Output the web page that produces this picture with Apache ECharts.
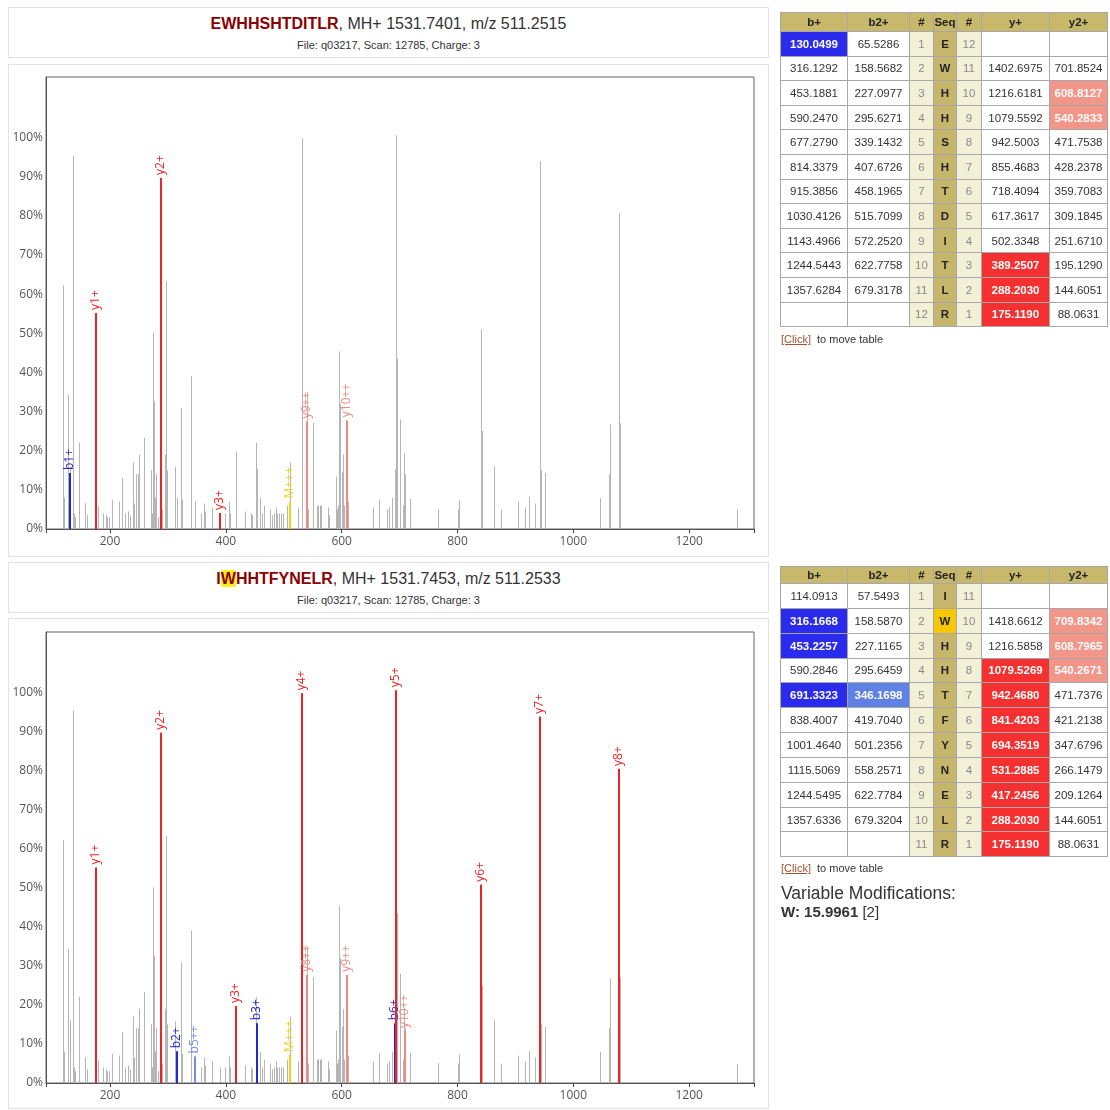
<!DOCTYPE html>
<html><head><meta charset="utf-8">
<script src="https://cdn.jsdelivr.net/npm/echarts@6/dist/echarts.min.js"></script>
<style>
body{margin:0;background:#fff;width:1110px;height:1110px;position:relative;overflow:hidden;font-family:"Liberation Sans",Arial,sans-serif;}
.box{position:absolute;border:1px solid #e2e2e2;box-sizing:border-box;background:#fff;}
.ttl{position:absolute;left:0;right:0;text-align:center;color:#333;white-space:nowrap;}
.t1{font-size:16px;top:7px;}
.t2{font-size:11px;top:31px;}
.pep{color:#8b0000;font-weight:bold;}
.mod{background:#ffee22;}
#chart{position:absolute;left:0;top:0;width:1110px;height:1110px;}
table.frag{position:absolute;border-collapse:collapse;font-size:11.5px;color:#333;table-layout:fixed;}
table.frag td{border:1px solid #a8a8a8;text-align:center;padding:0;white-space:nowrap;overflow:hidden;}
table.frag tr.h td{background:#c8b86c;font-weight:bold;color:#222;}
table.frag td.num{background:#f3f0d8;color:#888;}
table.frag td.seq{background:#c6b66c;font-weight:bold;color:#222;}
table.frag td.hb{background:#2b2bee;color:#fff;font-weight:bold;}
table.frag td.hbb{background:#5f80e4;color:#fff;font-weight:bold;}
table.frag td.hy{background:#f53030;color:#fff;font-weight:bold;}
table.frag td.hyy{background:#f3968a;color:#fff;font-weight:bold;}
table.frag td.hm{background:#f7c800;}
.click{position:absolute;left:781px;font-size:11px;color:#333;}
.click span{color:#a0522d;text-decoration:underline;}
</style></head><body>
<div class="box" style="left:8px;top:7px;width:761px;height:51px;">
  <div class="ttl t1"><span class="pep">EWHHSHTDITLR</span>, MH+ 1531.7401, m/z 511.2515</div>
  <div class="ttl t2">File: q03217, Scan: 12785, Charge: 3</div>
</div>
<div class="box" style="left:8px;top:64px;width:761px;height:493px;"></div>
<div class="box" style="left:8px;top:562px;width:761px;height:51px;">
  <div class="ttl t1"><span class="pep">I<span class="mod">W</span>HHTFYNELR</span>, MH+ 1531.7453, m/z 511.2533</div>
  <div class="ttl t2">File: q03217, Scan: 12785, Charge: 3</div>
</div>
<div class="box" style="left:8px;top:618px;width:761px;height:491px;"></div>
<div id="chart"></div>
<div id="tables"></div>
<div class="click" style="top:333px;"><span>[Click]</span>&nbsp; to move table</div>
<div class="click" style="top:862px;"><span>[Click]</span>&nbsp; to move table</div>
<div style="position:absolute;left:781px;top:883px;font-size:17.5px;color:#333;">Variable Modifications:</div>
<div style="position:absolute;left:781px;top:903px;font-size:15px;color:#333;"><b>W: 15.9961</b> [2]</div>
<script>
// ---- spectrum peaks (shared scan) ----
const grayMz = [119.4,120.6,128.0,130.3,136.1,136.8,138.3,139.5,146.5,157.4,159.7,173.6,175.1,179.8,187.3,193.1,195.4,198.3,204.0,215.0,220.7,226.5,231.7,234.0,239.1,242.0,245.5,247.8,250.7,258.1,270.2,272.0,273.7,276.0,277.7,279.4,283.5,288.2,289.2,295.0,296.7,298.4,312.8,316.2,322.0,323.8,339.3,340.5,346.2,357.7,362.9,364.6,376.2,389.2,398.0,404.9,407.3,417.2,433.2,444.1,445.8,451.6,453.2,459.1,461.9,466.5,476.3,479.2,483.2,486.7,489.0,492.4,494.8,498.2,505.1,511.6,524.1,531.3,532.1,540.3,540.8,541.5,551.2,556.9,559.8,562.7,564.4,576.0,577.7,589.8,592.6,594.4,596.1,597.8,600.1,603.0,604.5,608.8,610.5,654.8,664.6,677.8,681.9,686.5,691.3,693.4,694.4,695.1,700.9,706.6,707.8,709.6,718.1,765.9,801.6,802.8,841.4,842.2,863.8,874.7,905.2,916.7,924.2,934.0,942.5,944.9,951.9,1046.3,1061.3,1063.0,1079.5,1080.8,1282.9];
const grayInt = [62.2,8,34.3,16,95.4,2.5,4,3,22.1,6.6,3.5,17.5,55.2,5.8,4,3.5,3,3,7.5,7,13.1,4,4.5,3.5,17,6.5,14,14,19,23.3,15,4,50.1,32.6,8,14,3,89.7,5,19,63.3,15,15.8,8,30.9,7.5,39,17.5,7,4,6.5,4.5,5.5,4,4,7,4,19.8,4.5,4,3.5,22,15.4,8,4,6,5,3.5,4,5.5,4,4,4,4,6,17,5.5,99.8,23.5,27.5,35,5,27.1,6,6,6,6,5.5,3.5,13.4,5,6,45.4,32,14.5,19,6,27.5,7,5.5,7.5,5,5.5,8,15.3,24,100.6,43.5,28,6,19.3,14,7.7,5.1,5,7.3,51,25,16,5,7,5.5,8.2,6.5,94,15,14.3,7.9,14,26.7,80.6,27,4.9];

// ---- annotated ions, top spectrum ----
const topIonMz    = [130.05,175.12,288.20,389.25,511.25,540.28,608.81];
const topIonInt   = [14.3,55.2,89.7,4.1,7.0,27.5,27.8];
const topIonLabel = ['b1+','y1+','y2+','y3+','M+++','y9++','y10++'];
const topIonKind  = ['b','y','y','y','m','yy','yy'];

// ---- annotated ions, bottom spectrum ----
const botIonMz    = [175.12,288.20,316.17,346.17,417.25,453.23,511.25,531.29,540.27,608.80,691.33,694.35,709.83,841.42,942.47,1079.53];
const botIonInt   = [55.2,89.7,8.1,6.8,19.7,15.3,7.2,99.8,27.7,27.7,15.3,100.6,13.3,50.8,93.8,80.4];
const botIonLabel = ['y1+','y2+','b2+','b5++','y3+','b3+','M+++','y4+','y8++','y9++','b6+','y5+','y10++','y6+','y7+','y8+'];
const botIonKind  = ['y','y','b','bb','y','b','m','y','yy','yy','b','y','yy','y','y','y'];

const xTickLabels = [200,400,600,800,1000,1200];
const yTickLabels = [0,10,20,30,40,50,60,70,80,90,100];

// ---- fragment tables ----
const t1Header = ['b+','b2+','#','Seq','#','y+','y2+'];
const t1B  = ['130.0499','316.1292','453.1881','590.2470','677.2790','814.3379','915.3856','1030.4126','1143.4966','1244.5443','1357.6284',''];
const t1B2 = ['65.5286','158.5682','227.0977','295.6271','339.1432','407.6726','458.1965','515.7099','572.2520','622.7758','679.3178',''];
const t1Seq= ['E','W','H','H','S','H','T','D','I','T','L','R'];
const t1Y  = ['','1402.6975','1216.6181','1079.5592','942.5003','855.4683','718.4094','617.3617','502.3348','389.2507','288.2030','175.1190'];
const t1Y2 = ['','701.8524','608.8127','540.2833','471.7538','428.2378','359.7083','309.1845','251.6710','195.1290','144.6051','88.0631'];
const t1HiB=[0], t1HiB2=[], t1HiSeq=[], t1HiY=[9,10,11], t1HiY2=[2,3];

const t2B  = ['114.0913','316.1668','453.2257','590.2846','691.3323','838.4007','1001.4640','1115.5069','1244.5495','1357.6336',''];
const t2B2 = ['57.5493','158.5870','227.1165','295.6459','346.1698','419.7040','501.2356','558.2571','622.7784','679.3204',''];
const t2Seq= ['I','W','H','H','T','F','Y','N','E','L','R'];
const t2Y  = ['','1418.6612','1216.5858','1079.5269','942.4680','841.4203','694.3519','531.2885','417.2456','288.2030','175.1190'];
const t2Y2 = ['','709.8342','608.7965','540.2671','471.7376','421.2138','347.6796','266.1479','209.1264','144.6051','88.0631'];
const t2HiB=[1,2,4], t2HiB2=[4], t2HiSeq=[1], t2HiY=[3,4,5,6,7,8,9,10], t2HiY2=[1,2,3];

function buildTable(top, headH, rowH, B, B2, Seq, Y, Y2, hB, hB2, hS, hY, hY2){
  const n = Seq.length;
  const widths=[67,62,24,23,25,68,58];
  let h = '<table class="frag" style="left:780px;top:'+top+'px;width:327px;"><colgroup>'+widths.map(w=>'<col style="width:'+w+'px">').join('')+'</colgroup>';
  h += '<tr class="h" style="height:'+headH+'px">'+t1Header.map(x=>'<td>'+x+'</td>').join('')+'</tr>';
  for(let i=0;i<n;i++){
    h += '<tr style="height:'+rowH+'px">';
    h += '<td class="'+(hB.includes(i)?'hb':'')+'">'+B[i]+'</td>';
    h += '<td class="'+(hB2.includes(i)?'hbb':'')+'">'+B2[i]+'</td>';
    h += '<td class="num">'+(i+1)+'</td>';
    h += '<td class="seq'+(hS.includes(i)?' hm':'')+'">'+Seq[i]+'</td>';
    h += '<td class="num">'+(n-i)+'</td>';
    h += '<td class="'+(hY.includes(i)?'hy':'')+'">'+Y[i]+'</td>';
    h += '<td class="'+(hY2.includes(i)?'hyy':'')+'">'+Y2[i]+'</td>';
    h += '</tr>';
  }
  return h+'</table>';
}
document.getElementById('tables').innerHTML =
  buildTable(12,19,24.6,t1B,t1B2,t1Seq,t1Y,t1Y2,t1HiB,t1HiB2,t1HiSeq,t1HiY,t1HiY2) +
  buildTable(566,17,24.85,t2B,t2B2,t2Seq,t2Y,t2Y2,t2HiB,t2HiB2,t2HiSeq,t2HiY,t2HiY2);

// ---- chart ----
const kindColor = {b:'#2626d0', bb:'#6d8ee8', y:'#ee2424', yy:'#f08a80', m:'#f4d010'};
const grayData = grayMz.map((m,i)=>[m,grayInt[i]]);
function ionData(mz,it,lb,kd){ return mz.map((m,i)=>[m,it[i],lb[i],kd[i]]); }

function grayItem(params, api){
  const p0 = api.coord([api.value(0),0]), p1 = api.coord([api.value(0),api.value(1)]);
  const x = Math.round(p0[0])+0.5;
  return {type:'line', shape:{x1:x,y1:p0[1],x2:x,y2:p1[1]}, style:{stroke:'#b5b5b5',lineWidth:1}};
}
function ionItem(data){
  return function(params, api){
    const d = data[params.dataIndex];
    const p0 = api.coord([d[0],0]), p1 = api.coord([d[0],d[1]]);
    const c = kindColor[d[3]];
    const x = Math.round(p0[0]);
    return {type:'group', children:[
      {type:'line', shape:{x1:x,y1:p0[1],x2:x,y2:p1[1]}, style:{stroke:c,lineWidth:2}},
      {type:'text', x:x, y:p1[1]-3, rotation:Math.PI/2,
       style:{text:d[2], fill:c, font:'12px "Open Sans", sans-serif', align:'left', verticalAlign:'middle'}}
    ]};
  };
}
const topIons = ionData(topIonMz,topIonInt,topIonLabel,topIonKind);
const botIons = ionData(botIonMz,botIonInt,botIonLabel,botIonKind);

function xAx(g){ return {type:'value', gridIndex:g, min:89.4, max:1312, splitLine:{show:false},
  axisLine:{lineStyle:{color:'#555',width:1}}, axisTick:{length:4,lineStyle:{color:'#444'}},
  axisLabel:{color:'#555', fontSize:12, fontFamily:'Open Sans', margin:7,
    formatter:v=> xTickLabels.includes(Math.round(v)) && Math.abs(v-Math.round(v))<1e-6 ? String(v) : ''}}; }
function yAx(g){ return {type:'value', gridIndex:g, min:0, max:115.5, interval:10, splitLine:{show:false},
  axisLine:{show:true,lineStyle:{color:'#555',width:1}}, axisTick:{show:false},
  axisLabel:{color:'#555', fontSize:12, fontFamily:'Open Sans', margin:3,
    formatter:v=> yTickLabels.includes(v) ? v+'%' : ''}}; }

const chart = echarts.init(document.getElementById('chart'), null, {renderer:'canvas'});
chart.setOption({
  animation:false, backgroundColor:'transparent',
  grid:[{left:46,top:77,width:708,height:452,show:true,borderColor:'#666',borderWidth:1},
        {left:46,top:632,width:708,height:451,show:true,borderColor:'#666',borderWidth:1}],
  xAxis:[xAx(0),xAx(1)], yAxis:[yAx(0),yAx(1)],
  series:[
    {type:'custom', xAxisIndex:0, yAxisIndex:0, data:grayData, renderItem:grayItem, silent:true},
    {type:'custom', xAxisIndex:0, yAxisIndex:0, data:topIons.map(d=>[d[0],d[1]]), renderItem:ionItem(topIons), silent:true},
    {type:'custom', xAxisIndex:1, yAxisIndex:1, data:grayData, renderItem:grayItem, silent:true},
    {type:'custom', xAxisIndex:1, yAxisIndex:1, data:botIons.map(d=>[d[0],d[1]]), renderItem:ionItem(botIons), silent:true}
  ]
});
</script>
</body></html>
